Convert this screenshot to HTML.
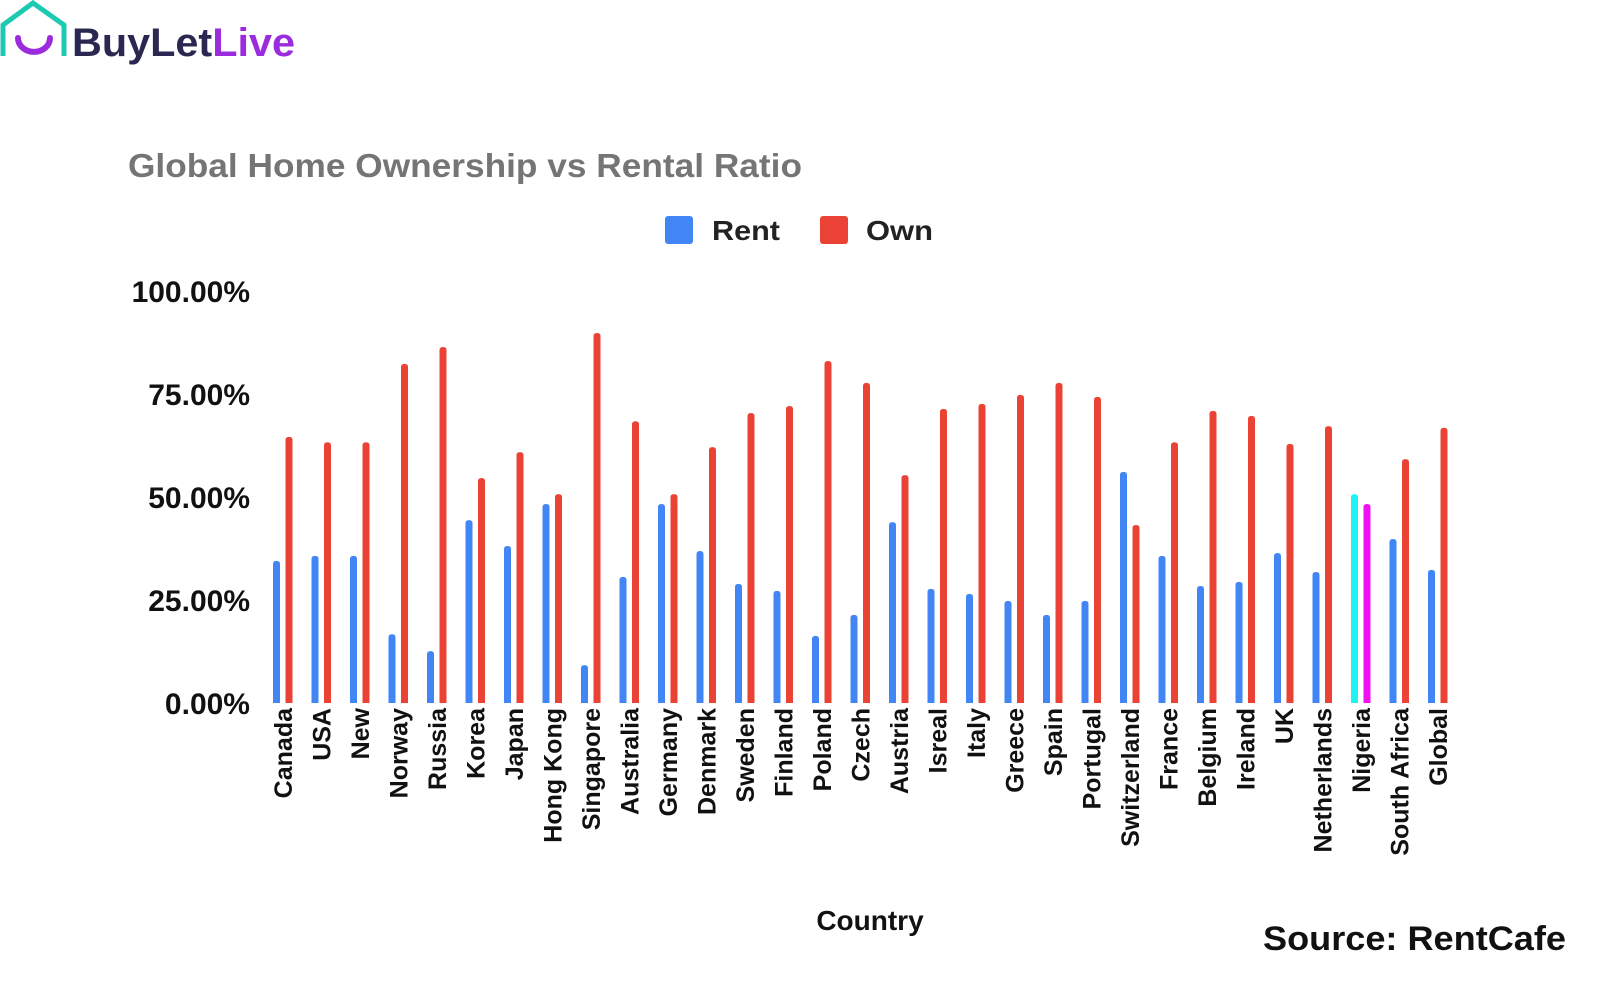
<!DOCTYPE html>
<html><head><meta charset="utf-8"><style>
body{margin:0;width:1600px;height:1002px;background:#fff;overflow:hidden;font-family:"Liberation Sans",sans-serif}
</style></head><body>
<svg width="1600" height="1002">
<g>
<path d="M3,56 V25 L33,3 L64,25 V56" fill="none" stroke="#1dc9b0" stroke-width="5"/>
<path d="M18,38 A15,13 0 0 0 50,38" fill="none" stroke="#9b2bdc" stroke-width="6" stroke-linecap="round"/>
<text x="72" y="56" font-size="40" font-weight="bold" fill="#2a2850" textLength="223" lengthAdjust="spacingAndGlyphs">BuyLet<tspan fill="#9b2bdc">Live</tspan></text>
</g>
<text x="128" y="177" font-size="33" font-weight="bold" fill="#757575" textLength="674" lengthAdjust="spacingAndGlyphs">Global Home Ownership vs Rental Ratio</text>
<rect x="665" y="216" width="28" height="28" rx="3" fill="#4285f4"/>
<text x="712" y="240" font-size="28" font-weight="bold" fill="#222" textLength="68" lengthAdjust="spacingAndGlyphs">Rent</text>
<rect x="820" y="216" width="28" height="28" rx="3" fill="#ea4335"/>
<text x="866" y="240" font-size="28" font-weight="bold" fill="#222" textLength="67" lengthAdjust="spacingAndGlyphs">Own</text>
<g id="yaxis"></g><g id="bars"></g><g id="xlabels"></g>
<text x="870" y="930" font-size="28" font-weight="bold" fill="#111" text-anchor="middle">Country</text>
<text x="1263" y="950" font-size="34" font-weight="bold" fill="#111" textLength="303" lengthAdjust="spacingAndGlyphs">Source: RentCafe</text>
</svg>
<script>
const categories=["Canada","USA","New","Norway","Russia","Korea","Japan","Hong Kong","Singapore","Australia","Germany","Denmark","Sweden","Finland","Poland","Czech","Austria","Isreal","Italy","Greece","Spain","Portugal","Switzerland","France","Belgium","Ireland","UK","Netherlands","Nigeria","South Africa","Global"];
const rentValues=[34.5,35.7,35.7,16.7,12.6,44.4,38.1,48.3,9.2,30.6,48.3,36.9,28.9,27.2,16.3,21.4,43.9,27.7,26.5,24.8,21.4,24.8,56.1,35.7,28.4,29.4,36.4,31.8,50.7,39.8,32.3];
const ownValues=[64.6,63.3,63.3,82.3,86.4,54.6,60.9,50.7,89.8,68.4,50.7,62.1,70.4,72.1,83.0,77.7,55.3,71.4,72.6,74.8,77.7,74.3,43.2,63.3,70.9,69.7,62.9,67.2,48.3,59.2,66.8];
const yTicks=[0,25,50,75,100];
const NS="http://www.w3.org/2000/svg";
const y0=703,pxPer=4.12;
const yScale=v=>y0-v*pxPer;
const xScale=i=>283+i*38.5;
function mk(tag,attrs,parent){const e=document.createElementNS(NS,tag);for(const k in attrs)e.setAttribute(k,attrs[k]);parent.appendChild(e);return e;}
const ya=document.getElementById('yaxis');
yTicks.forEach(t=>{const e=mk('text',{x:250,y:yScale(t)+11,'font-size':30,'font-weight':'bold',fill:'#111','text-anchor':'end'},ya);
e.textContent=t.toFixed(2)+'%';

});
const bars=document.getElementById('bars');
function bar(x,v,color){const w=7;const y=yScale(v);
const e=mk('path',{d:`M${x},${y0} V${y+3} Q${x},${y} ${x+3.5},${y} Q${x+w},${y} ${x+w},${y+3} V${y0} Z`,fill:color},bars);return e;}
categories.forEach((c,i)=>{const x=xScale(i);const nig=c==="Nigeria";
const r=bar(x-10,rentValues[i],nig?"#1ef2f2":"#4285f4");


const o=bar(x+2.5,ownValues[i],nig?"#f010f0":"#ea4335");


const t=mk('text',{transform:`translate(${x+9},708) rotate(-90)`,'font-size':25,'font-weight':'bold',fill:'#111','text-anchor':'end'},document.getElementById('xlabels'));
t.textContent=c;

});
</script>
</body></html>
